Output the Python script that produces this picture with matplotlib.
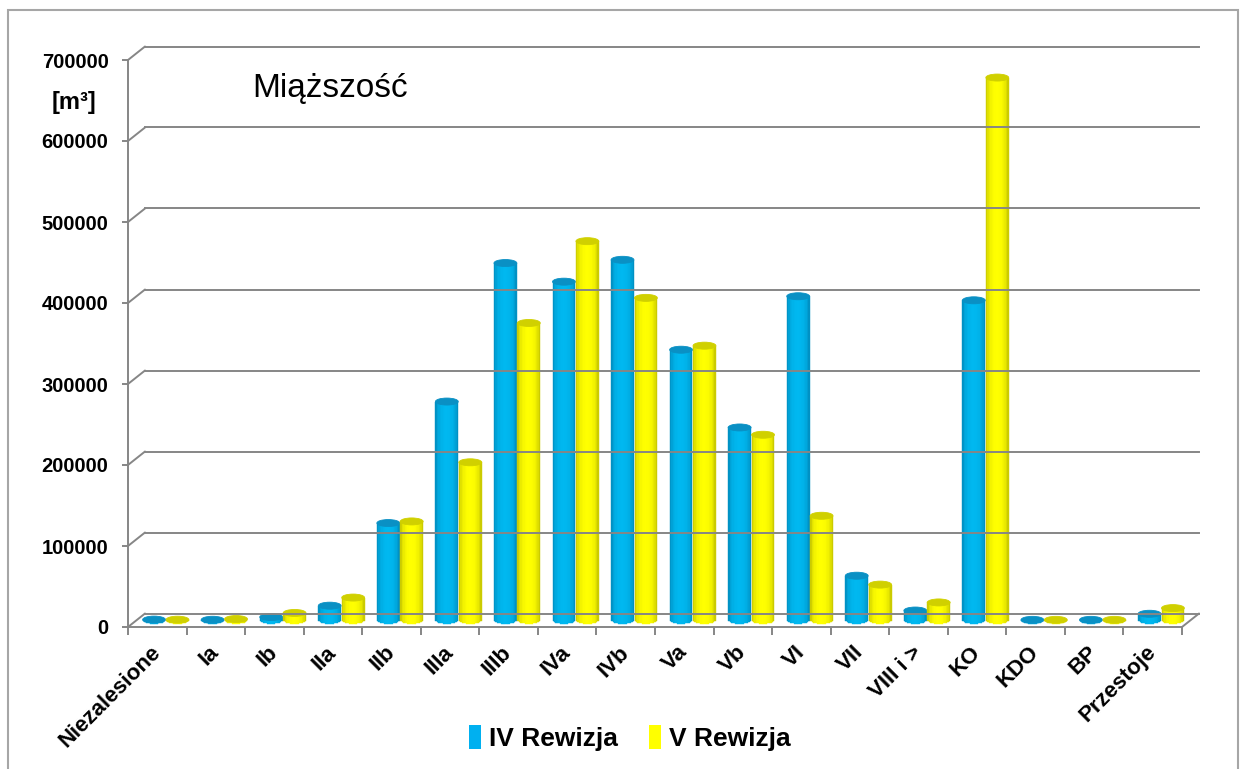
import numpy as np
import matplotlib.pyplot as plt
from matplotlib.patches import Ellipse, Patch, Rectangle, ConnectionPatch
from matplotlib.transforms import ScaledTranslation
from matplotlib.colors import to_rgb

plt.rcParams['font.family'] = ['Liberation Sans', 'DejaVu Sans']

# dane
categories = ['Niezalesione', 'Ia', 'Ib', 'IIa', 'IIb', 'IIIa', 'IIIb', 'IVa', 'IVb',
              'Va', 'Vb', 'VI', 'VII', 'VIII i >', 'KO', 'KDO', 'BP', 'Przestoje']
rewizja_iv = [800, 600, 4000, 18000, 120000, 270000, 441000, 418000, 445000,
              334000, 238000, 400000, 55000, 12000, 395000, 500, 500, 8000]
rewizja_v = [700, 1500, 9000, 28000, 122000, 195000, 367000, 468000, 398000,
             339000, 229000, 129000, 44000, 22000, 670000, 500, 500, 15000]
series_names = ['IV Rewizja', 'V Rewizja']
yticks = [0, 100000, 200000, 300000, 400000, 500000, 600000, 700000]

W, H = 1243, 769
fig = plt.figure(figsize=(W / 100, H / 100), dpi=100)
ax = fig.add_axes([128 / W, 1 - 627 / H, (1182 - 128) / W, (627 - 60) / H])

# przesuniecia "3D" (tylna sciana i srodek glebokosci)
back = ax.transData + ScaledTranslation(17 / 100, 13.5 / 100, fig.dpi_scale_trans)
mid = ax.transData + ScaledTranslation(8.5 / 100, 6.75 / 100, fig.dpi_scale_trans)

grid_c = '#868686'
n = len(categories)
for v in yticks:
    ax.plot([0, n], [v, v], transform=back, color=grid_c, lw=1.4, clip_on=False)
    ax.add_artist(ConnectionPatch((0, v), (0, v), coordsA=ax.transData, coordsB=back,
                                  color=grid_c, lw=1.4))
ax.add_artist(ConnectionPatch((n, 0), (n, 0), coordsA=ax.transData, coordsB=back,
                              color=grid_c, lw=1.4))

ell_h = 7 * 700000 / 567  # wysokosc elipsy (7 px)
bar_w = 0.39


def cylinder(x, v, edge, center, top):
    k = 16
    e = np.linspace(x - bar_w / 2, x + bar_w / 2, k + 1)
    xs = (e[:-1] + e[1:]) / 2
    u = (xs - x) / (bar_w / 2)
    yb = -ell_h / 2 * np.sqrt(1 - u ** 2)
    t = ((1 - u ** 2) ** 0.35)[:, None]
    cols = (1 - t) * np.array(to_rgb(edge)) + t * np.array(to_rgb(center))
    ax.bar(xs, v - yb, bottom=yb, width=bar_w / k, color=cols, edgecolor=cols,
           linewidth=0.3, transform=mid, clip_on=False)
    ax.add_patch(Ellipse((x, v), bar_w, ell_h, facecolor=top, edgecolor=top,
                         lw=0.6, transform=mid, clip_on=False))


for i in range(n):
    cylinder(i + 0.5 - 0.2, rewizja_iv[i], '#006e9c', '#00b8f0', '#0a90c4')
    cylinder(i + 0.5 + 0.2, rewizja_v[i], '#9c9c00', '#ffff00', '#d0d000')

ax.set_xlim(0, n)
ax.set_ylim(0, 700000)

for s in ['top', 'right']:
    ax.spines[s].set_visible(False)
for s in ['left', 'bottom']:
    ax.spines[s].set_color(grid_c)
    ax.spines[s].set_linewidth(1.4)

ax.set_yticks(yticks)
ax.set_yticklabels([str(v) for v in yticks], fontsize=14.5, fontweight='bold')
ax.tick_params(axis='y', length=4, color=grid_c, width=1.4, pad=10)

ax.set_xticks(np.arange(n + 1))
ax.set_xticklabels([])
ax.tick_params(axis='x', which='major', length=6, color=grid_c, width=1.4)
ax.set_xticks(np.arange(n) + 0.5, minor=True)
ax.set_xticklabels(categories, minor=True, rotation=45, ha='right', va='center',
                   rotation_mode='anchor', fontsize=16, fontweight='bold')
ax.tick_params(axis='x', which='minor', length=0, pad=16)
ax.patch.set_visible(False)

fig.text(252 / W, 1 - 88 / H, 'Miąższość', fontsize=24, ha='left', va='center')
fig.text(74 / W, 1 - 102 / H, '[m³]', fontsize=17, fontweight='bold', ha='center', va='center')

handles = [Patch(facecolor='#00b0f0'), Patch(facecolor='#ffff00')]
fig.legend(handles, series_names, loc='center', bbox_to_anchor=(630 / W, 1 - 738 / H),
           ncol=2, frameon=False, prop={'weight': 'bold', 'size': 19},
           handlelength=0.45, handleheight=1.0, handletextpad=0.3, columnspacing=1.2)

fig.add_artist(Rectangle((8 / W, -0.02), (1238 - 8) / W, (769 - 10) / H + 0.02,
                         transform=fig.transFigure, fill=False, edgecolor='#a6a6a6', lw=1.5))

fig.savefig('out.png', dpi=100)
